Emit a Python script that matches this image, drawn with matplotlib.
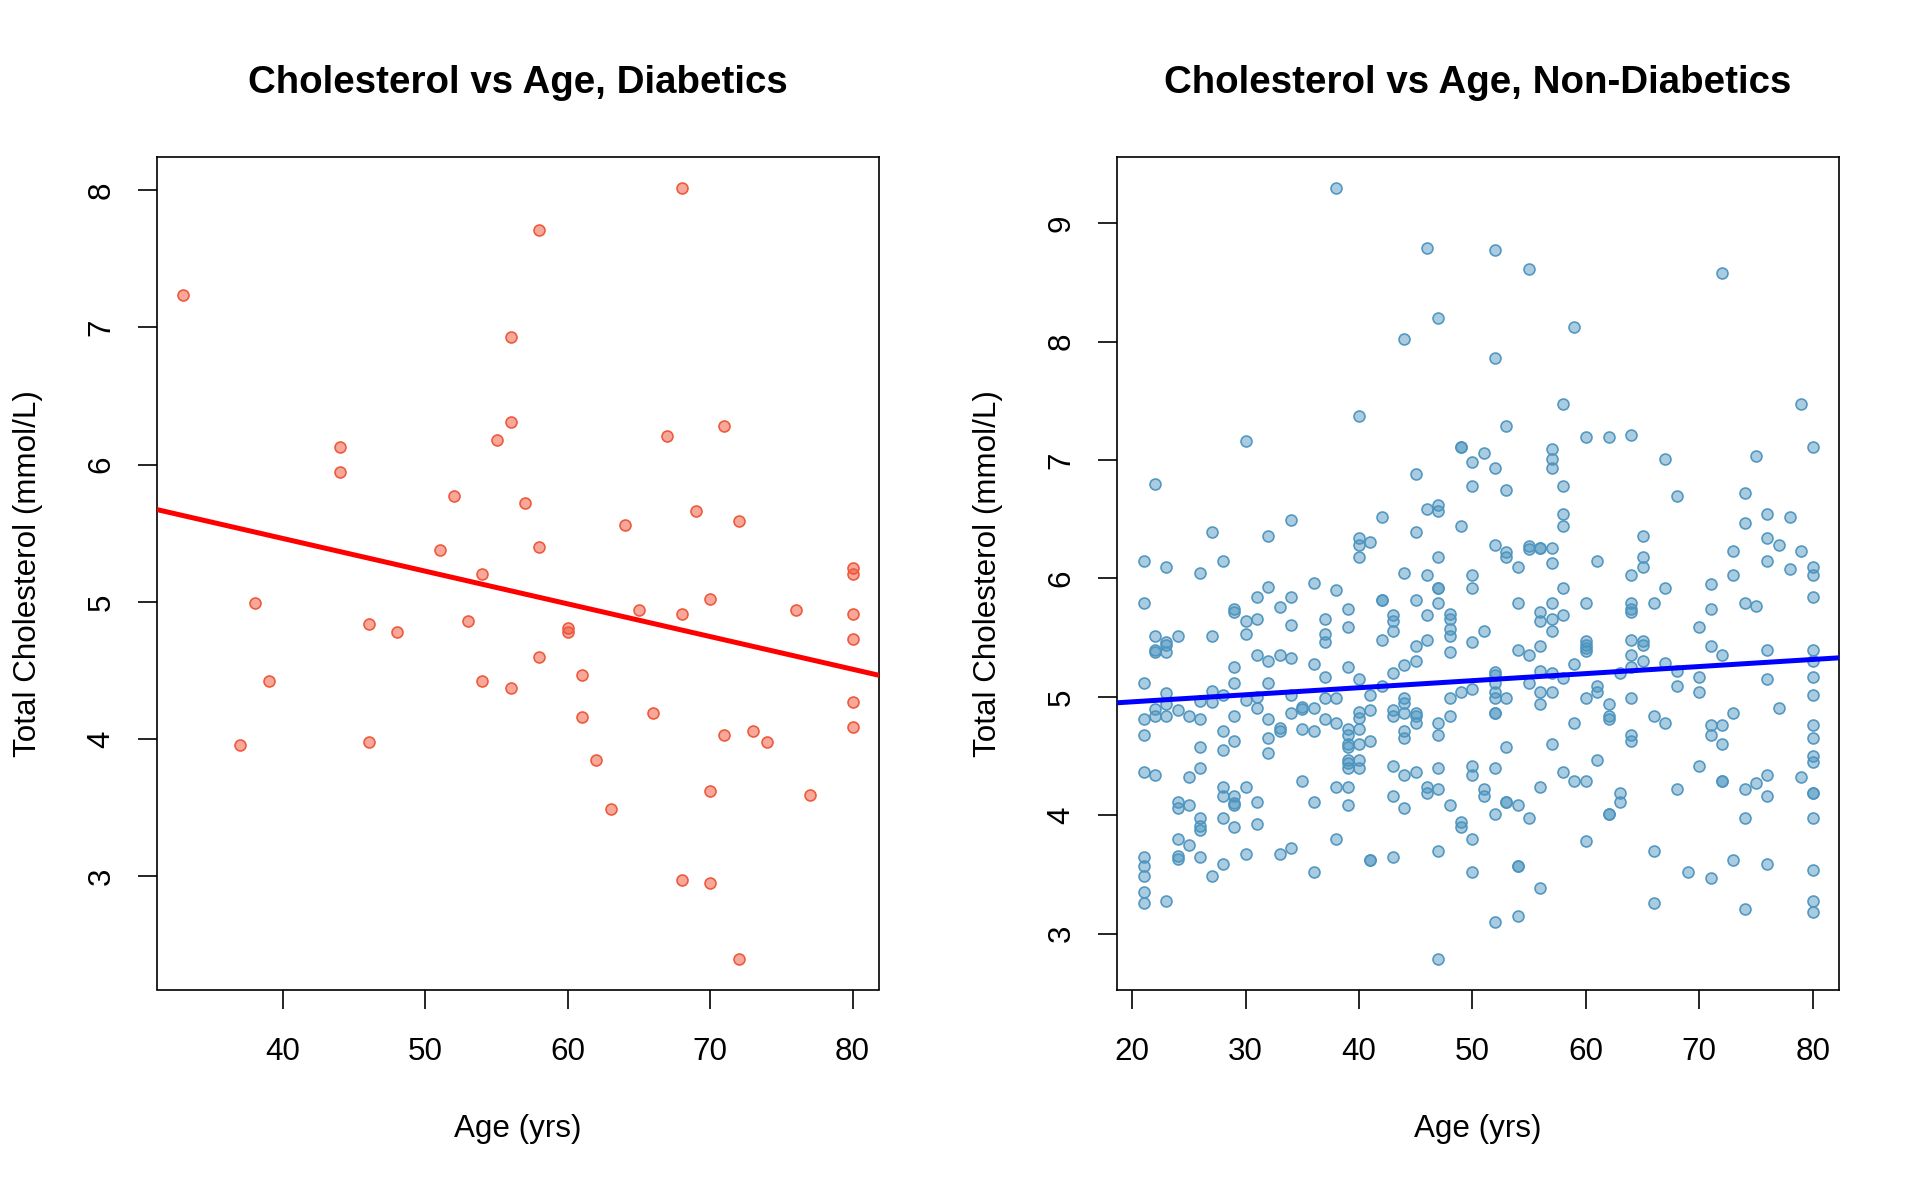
import numpy as np
import matplotlib
matplotlib.use("Agg")
import matplotlib.pyplot as plt

plt.rcParams['font.family'] = ['Liberation Sans', 'DejaVu Sans']

# ---------------- data: diabetics ----------------
dia_age = [33, 37, 38, 39, 44, 44, 46, 46, 48, 51, 52, 53, 54, 54, 55, 56, 56, 56,
           57, 58, 58, 58, 60, 60, 61, 61, 62, 63, 64, 65, 66, 67, 68, 68, 68, 69,
           70, 70, 70, 71, 71, 72, 72, 73, 74, 76, 77, 80, 80, 80, 80, 80, 80]
dia_chol = [7.24, 3.96, 4.99, 4.42, 6.13, 5.95, 4.84, 3.98, 4.78, 5.38, 5.77, 4.86,
            5.20, 4.42, 6.18, 6.93, 6.31, 4.37, 5.72, 7.71, 5.40, 4.60, 4.81, 4.78,
            4.47, 4.16, 3.85, 3.49, 5.56, 4.94, 4.19, 6.21, 8.02, 4.91, 2.97, 5.66,
            5.02, 3.62, 2.95, 6.28, 4.03, 5.59, 2.40, 4.06, 3.98, 4.94, 3.59, 5.25,
            5.20, 4.91, 4.73, 4.27, 4.09]

# ---------------- data: non-diabetics (grouped by age) ----------------
nd_age_levels = list(range(21, 81))
nd_chol_by_age = [
    [6.15, 5.79, 5.12, 4.81, 4.68, 4.37, 3.65, 3.57, 3.49, 3.35, 3.26],   # 21
    [6.80, 5.51, 5.40, 5.38, 4.90, 4.84, 4.34],                           # 22
    [6.10, 5.46, 5.435, 5.38, 5.03, 4.94, 4.84, 3.28],                    # 23
    [5.51, 4.89, 4.11, 4.06, 3.80, 3.66, 3.63],                           # 24
    [4.84, 4.32, 4.09, 3.75],                                             # 25
    [6.05, 4.965, 4.81, 4.58, 4.40, 3.98, 3.91, 3.88, 3.65],              # 26
    [6.39, 5.51, 5.05, 4.96, 3.49],                                       # 27
    [6.15, 5.02, 4.71, 4.55, 4.24, 4.16, 3.98, 3.59],                     # 28
    [5.745, 5.72, 5.25, 5.12, 4.84, 4.63, 4.16, 4.10, 4.085, 3.90],       # 29
    [7.16, 5.64, 5.53, 4.97, 4.24, 3.67],                                 # 30
    [5.84, 5.66, 5.35, 5.00, 4.91, 4.11, 3.93],                           # 31
    [6.36, 5.93, 5.30, 5.12, 4.81, 4.65, 4.53],                           # 32
    [5.76, 5.35, 4.735, 4.71, 3.67],                                      # 33
    [6.49, 5.84, 5.61, 5.33, 5.02, 4.86, 3.72],                           # 34
    [4.915, 4.90, 4.73, 4.29],                                            # 35
    [5.96, 5.28, 4.91, 4.71, 4.11, 3.52],                                 # 36
    [5.66, 5.53, 5.46, 5.17, 4.99, 4.81],                                 # 37
    [9.30, 5.90, 4.99, 4.78, 4.24, 3.80],                                 # 38
    [5.74, 5.59, 5.25, 4.73, 4.68, 4.60, 4.58, 4.47, 4.44, 4.40, 4.24, 4.09],  # 39
    [7.37, 6.34, 6.28, 6.18, 5.15, 4.87, 4.82, 4.73, 4.60, 4.47, 4.40],   # 40
    [6.31, 5.02, 4.89, 4.63, 3.62, 3.62],                                 # 41
    [6.52, 5.82, 5.82, 5.48, 5.09],                                       # 42
    [5.69, 5.64, 5.56, 5.20, 4.89, 4.84, 4.42, 4.16, 3.65],               # 43
    [8.02, 6.05, 5.27, 4.99, 4.95, 4.86, 4.71, 4.65, 4.34, 4.06],         # 44
    [6.88, 6.39, 5.82, 5.43, 5.30, 4.86, 4.84, 4.78, 4.37],               # 45
    [8.79, 6.59, 6.03, 5.69, 5.48, 4.24, 4.19],                           # 46
    [8.20, 6.62, 6.57, 6.18, 5.92, 5.92, 5.79, 4.78, 4.68, 4.40, 4.22, 3.70, 2.79],  # 47
    [5.70, 5.66, 5.57, 5.51, 5.38, 4.99, 4.84, 4.09],                     # 48
    [7.11, 7.11, 6.44, 5.04, 3.94, 3.90],                                 # 49
    [6.98, 6.78, 6.03, 5.92, 5.46, 5.07, 4.42, 4.34, 3.80, 3.52],         # 50
    [7.06, 5.56, 4.22, 4.16],                                             # 51
    [8.77, 7.86, 6.93, 6.28, 5.21, 5.185, 5.12, 5.04, 4.99, 4.86, 4.86, 4.40, 4.01, 3.10],  # 52
    [7.29, 6.75, 6.22, 6.185, 4.99, 4.58, 4.11, 4.11],                    # 53
    [6.10, 5.79, 5.40, 4.09, 3.57, 3.57, 3.15],                           # 54
    [8.61, 6.27, 6.25, 5.35, 5.12, 3.98],                                 # 55
    [6.26, 6.26, 5.72, 5.64, 5.43, 5.22, 5.04, 4.94, 4.24, 3.39],         # 56
    [7.09, 7.01, 6.93, 6.26, 6.13, 5.79, 5.66, 5.56, 5.20, 5.04, 4.60],   # 57
    [7.47, 6.78, 6.54, 6.44, 5.92, 5.69, 5.16, 4.37],                     # 58
    [8.12, 5.28, 4.78, 4.29],                                             # 59
    [7.19, 5.79, 5.47, 5.44, 5.415, 5.39, 4.99, 4.29, 3.78],              # 60
    [6.15, 5.09, 5.04, 4.47],                                             # 61
    [7.19, 4.94, 4.84, 4.81, 4.01, 4.01],                                 # 62
    [5.20, 4.19, 4.11],                                                   # 63
    [7.21, 6.03, 5.79, 5.745, 5.72, 5.48, 5.35, 5.25, 4.99, 4.68, 4.63],  # 64
    [6.36, 6.18, 6.10, 5.47, 5.44, 5.30],                                 # 65
    [5.79, 4.84, 3.70, 3.26],                                             # 66
    [7.01, 5.92, 5.29, 4.78],                                             # 67
    [6.70, 5.22, 5.09, 4.22],                                             # 68
    [3.52],                                                               # 69
    [5.59, 5.17, 5.04, 4.42],                                             # 70
    [5.95, 5.74, 5.43, 4.76, 4.68, 3.47],                                 # 71
    [8.58, 5.35, 4.76, 4.60, 4.29, 4.29],                                 # 72
    [6.23, 6.03, 4.86, 3.62],                                             # 73
    [6.72, 6.47, 5.79, 4.22, 3.98, 3.21],                                 # 74
    [7.03, 5.77, 4.27],                                                   # 75
    [6.54, 6.34, 6.15, 5.40, 5.15, 4.34, 4.16, 3.59],                     # 76
    [6.28, 4.91],                                                         # 77
    [6.52, 6.08],                                                         # 78
    [7.47, 6.23, 4.32],                                                   # 79
    [7.11, 6.10, 6.03, 5.84, 5.40, 5.30, 5.17, 5.02, 4.76, 4.65, 4.50,
     4.45, 4.19, 4.19, 3.98, 3.54, 3.28, 3.18],                           # 80
]
nd_age = np.concatenate([[a] * len(v) for a, v in zip(nd_age_levels, nd_chol_by_age)])
nd_chol = np.concatenate([np.array(v, dtype=float) for v in nd_chol_by_age])

# regression line for non-diabetics (intercept, slope)
nd_fit_intercept = 4.839
nd_fit_slope = 0.00596

# ---------------- figure ----------------
W, H = 1920, 1186
fig = plt.figure(figsize=(W / 100, H / 100), dpi=100)

ax_top, ax_bot = 156.7, 989.5
ax_h = ax_bot - ax_top
ax_w = 722.6
lefts = [156.7, 1116.8]

FS = 22.6
TFS = 27.7


def make_axes(left):
    return fig.add_axes([left / W, 1 - ax_bot / H, ax_w / W, ax_h / H])


def style(ax, title, xticks, yticks):
    for s in ax.spines.values():
        s.set_linewidth(1.2)
        s.set_color('black')
    ax.set_xticks(xticks)
    ax.set_yticks(yticks)
    ax.tick_params(axis='both', direction='out', length=13.7, width=1.2,
                   labelsize=FS, colors='black')
    ax.tick_params(axis='x', pad=20.7)
    ax.tick_params(axis='y', pad=15.3)
    for lab in ax.get_yticklabels():
        lab.set_rotation(90)
        lab.set_va('center')
    ax.text(0.5, 1.0882, title, transform=ax.transAxes, ha='center', va='center',
            fontsize=TFS, fontweight='bold')
    ax.set_xlabel('Age (yrs)', fontsize=FS, va='center')
    ax.xaxis.set_label_coords(0.5, -0.1675)
    ax.set_ylabel('Total Cholesterol (mmol/L)', fontsize=FS, va='center')
    ax.yaxis.set_label_coords(-0.178, 0.5)


def r_range(v):
    lo, hi = min(v), max(v)
    d = (hi - lo) * 0.04
    return lo - d, hi + d


# left panel
ax1 = make_axes(lefts[0])
ax1.scatter(dia_age, dia_chol, s=62, facecolor=(0.94, 0.32, 0.22, 0.5),
            edgecolor='#EE5A3C', linewidths=1.2, zorder=3)
xl = r_range(dia_age)
yl = r_range(dia_chol)
b1, a1 = np.polyfit(dia_age, dia_chol, 1)
xx = np.array(xl)
ax1.plot(xx, a1 + b1 * xx, color='red', lw=3.6, zorder=4, solid_capstyle='butt')
ax1.set_xlim(xl)
ax1.set_ylim(yl)
style(ax1, 'Cholesterol vs Age, Diabetics', [40, 50, 60, 70, 80], [3, 4, 5, 6, 7, 8])

# right panel
ax2 = make_axes(lefts[1])
ax2.scatter(nd_age, nd_chol, s=62, facecolor=(0.30, 0.59, 0.75, 0.48),
            edgecolor=(0.30, 0.58, 0.75, 0.95), linewidths=1.2, zorder=3)
xl2 = r_range(nd_age)
yl2 = r_range(nd_chol)
xx2 = np.array(xl2)
ax2.plot(xx2, nd_fit_intercept + nd_fit_slope * xx2, color='blue', lw=3.6, zorder=4,
         solid_capstyle='butt')
ax2.set_xlim(xl2)
ax2.set_ylim(yl2)
style(ax2, 'Cholesterol vs Age, Non-Diabetics', [20, 30, 40, 50, 60, 70, 80],
      [3, 4, 5, 6, 7, 8, 9])

fig.savefig('out.png', dpi=100)
